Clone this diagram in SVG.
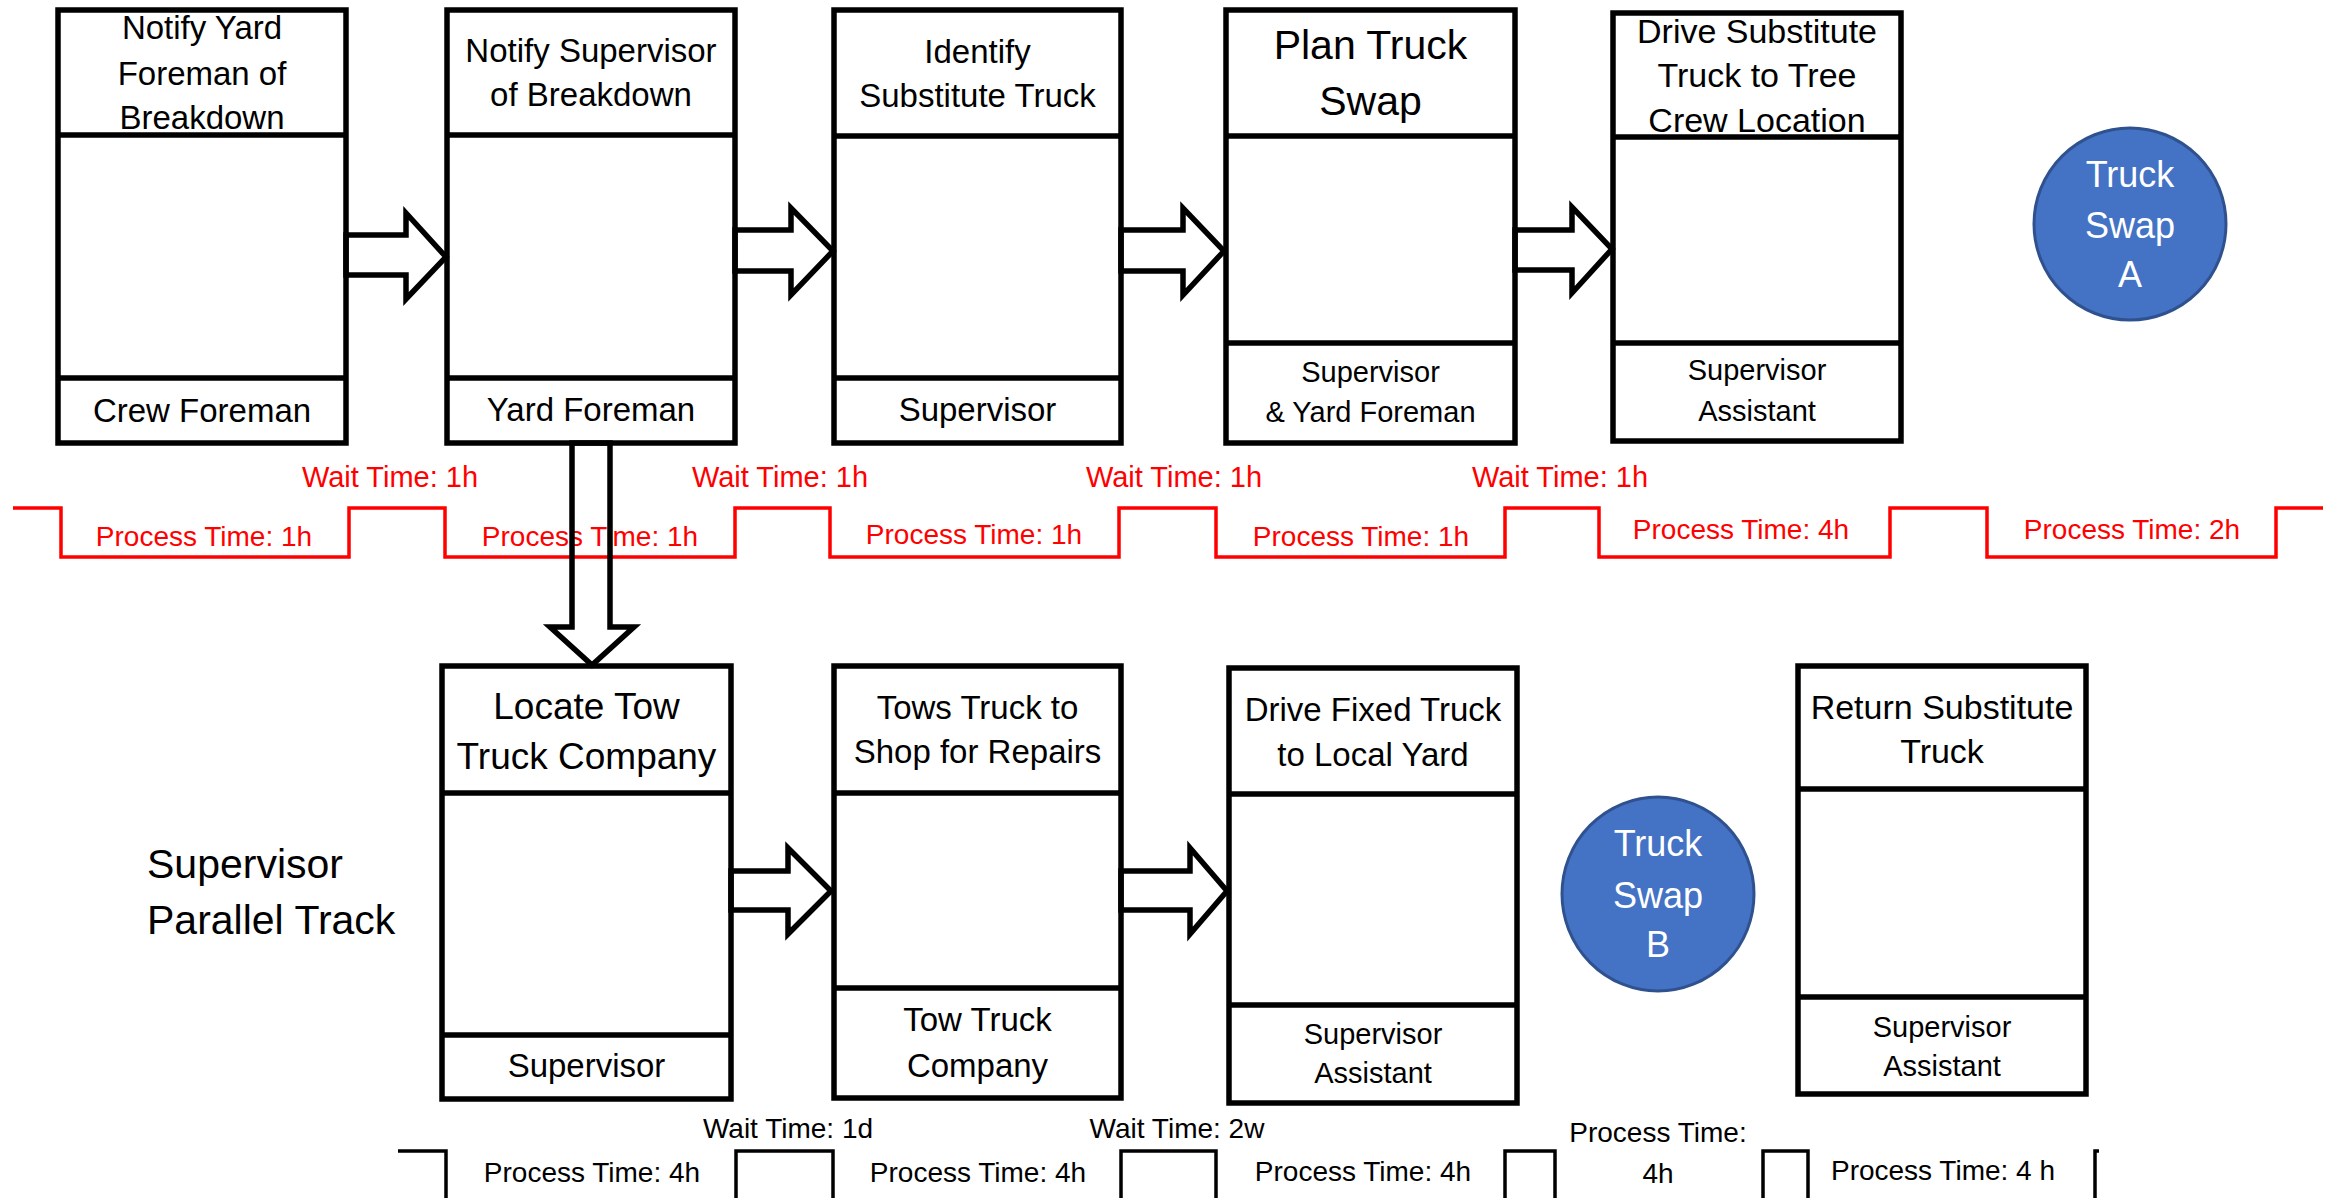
<svg xmlns="http://www.w3.org/2000/svg" width="2334" height="1198" viewBox="0 0 2334 1198">
<style>
text{font-family:"Liberation Sans",Arial,sans-serif;text-anchor:middle;fill:#000}
.box{fill:#fff;stroke:#000;stroke-width:5.5}
.div{stroke:#000;stroke-width:5.5;fill:none}
.arr{fill:none;stroke:#000;stroke-width:5.5;stroke-linejoin:miter}
.h{font-size:33px}
.f{font-size:33px}
.f2{font-size:29px}
.red{fill:#FF0000;font-size:28px}
.wr{fill:#FF0000;font-size:29px}
.bt{font-size:28px}
.ct{fill:#fff;font-size:36px}
.circ{fill:#4472C4;stroke:#2F528F;stroke-width:3}
</style>
<rect width="2334" height="1198" fill="#fff"/>

<g id="timeline-red">
<path d="M13,508 H61 V557 H349 V508 H445 V557 H735 V508 H830 V557 H1119 V508 H1216 V557 H1505 V508 H1599 V557 H1890 V508 H1987 V557 H2276 V508 H2323" fill="none" stroke="#FF0000" stroke-width="3.5"/>
<text class="wr" x="390" y="487">Wait Time: 1h</text>
<text class="wr" x="780" y="487">Wait Time: 1h</text>
<text class="wr" x="1174" y="487">Wait Time: 1h</text>
<text class="wr" x="1560" y="487">Wait Time: 1h</text>
<text class="red" x="204" y="546">Process Time: 1h</text>
<text class="red" x="590" y="546">Process Time: 1h</text>
<text class="red" x="974" y="544">Process Time: 1h</text>
<text class="red" x="1361" y="546">Process Time: 1h</text>
<text class="red" x="1741" y="539">Process Time: 4h</text>
<text class="red" x="2132" y="539">Process Time: 2h</text>
</g>

<g id="timeline-black">
<path d="M398,1151 H446 V1204 M736,1204 V1151 H833 V1204 M1121,1204 V1151 H1216 V1204 M1505,1204 V1151 H1555 V1204 M1763,1204 V1151 H1808 V1204 M2095,1204 V1151 H2099" fill="none" stroke="#000" stroke-width="3.5"/>
<text class="bt" x="788" y="1138">Wait Time: 1d</text>
<text class="bt" x="1177" y="1138">Wait Time: 2w</text>
<text class="bt" x="592" y="1182">Process Time: 4h</text>
<text class="bt" x="978" y="1182">Process Time: 4h</text>
<text class="bt" x="1363" y="1181">Process Time: 4h</text>
<text class="bt" x="1658" y="1142">Process Time:</text>
<text class="bt" x="1658" y="1183">4h</text>
<text class="bt" x="1943" y="1180">Process Time: 4 h</text>
</g>

<g id="n1">
<rect class="box" x="58" y="10" width="288" height="433"/>
<path class="div" d="M58,135 H346 M58,378 H346"/>
<text class="h" x="202" y="39">Notify Yard</text>
<text class="h" x="202" y="85">Foreman of</text>
<text class="h" x="202" y="129">Breakdown</text>
<text class="f" x="202" y="422">Crew Foreman</text>
</g>

<g id="n2">
<rect class="box" x="447" y="10" width="288" height="433"/>
<path class="div" d="M447,135 H735 M447,378 H735"/>
<text class="h" x="591" y="62">Notify Supervisor</text>
<text class="h" x="591" y="106">of Breakdown</text>
<text class="f" x="591" y="421">Yard Foreman</text>
</g>

<g id="n3">
<rect class="box" x="834" y="10" width="287" height="433"/>
<path class="div" d="M834,136 H1121 M834,378 H1121"/>
<text class="h" x="977.5" y="63">Identify</text>
<text class="h" x="977.5" y="107">Substitute Truck</text>
<text class="f" x="977.5" y="421">Supervisor</text>
</g>

<g id="n4">
<rect class="box" x="1226" y="10" width="289" height="433"/>
<path class="div" d="M1226,136 H1515 M1226,343 H1515"/>
<text x="1370.5" y="59" style="font-size:41px">Plan Truck</text>
<text x="1370.5" y="115" style="font-size:41px">Swap</text>
<text class="f2" x="1370.5" y="382">Supervisor</text>
<text class="f2" x="1370.5" y="422">&amp; Yard Foreman</text>
</g>

<g id="n5">
<rect class="box" x="1613" y="13" width="288" height="428"/>
<path class="div" d="M1613,137 H1901 M1613,343 H1901"/>
<text x="1757" y="43" style="font-size:34px">Drive Substitute</text>
<text x="1757" y="87" style="font-size:34px">Truck to Tree</text>
<text x="1757" y="132" style="font-size:34px">Crew Location</text>
<text class="f2" x="1757" y="380">Supervisor</text>
<text class="f2" x="1757" y="421">Assistant</text>
</g>

<g id="swapA">
<ellipse class="circ" cx="2130" cy="224" rx="96" ry="96"/>
<text class="ct" x="2130" y="187">Truck</text>
<text class="ct" x="2130" y="238">Swap</text>
<text class="ct" x="2130" y="287">A</text>
</g>

<g id="label-parallel">
<text x="147" y="878" style="font-size:41px;text-anchor:start">Supervisor</text>
<text x="147" y="934" style="font-size:41px;text-anchor:start">Parallel Track</text>
</g>

<g id="n6">
<rect class="box" x="442" y="666" width="289" height="433"/>
<path class="div" d="M442,793 H731 M442,1035 H731"/>
<text x="586.5" y="719" style="font-size:37px">Locate Tow</text>
<text x="586.5" y="769" style="font-size:37px">Truck Company</text>
<text class="f" x="586.5" y="1077">Supervisor</text>
</g>

<g id="n7">
<rect class="box" x="834" y="666" width="287" height="432"/>
<path class="div" d="M834,793 H1121 M834,988 H1121"/>
<text class="h" x="977.5" y="719">Tows Truck to</text>
<text class="h" x="977.5" y="763">Shop for Repairs</text>
<text class="f" x="977.5" y="1031">Tow Truck</text>
<text class="f" x="977.5" y="1077">Company</text>
</g>

<g id="n8">
<rect class="box" x="1229" y="668" width="288" height="435"/>
<path class="div" d="M1229,794 H1517 M1229,1005 H1517"/>
<text class="h" x="1373" y="721">Drive Fixed Truck</text>
<text class="h" x="1373" y="766">to Local Yard</text>
<text class="f2" x="1373" y="1044">Supervisor</text>
<text class="f2" x="1373" y="1083">Assistant</text>
</g>

<g id="swapB">
<ellipse class="circ" cx="1658" cy="894" rx="96" ry="97"/>
<text class="ct" x="1658" y="856">Truck</text>
<text class="ct" x="1658" y="908">Swap</text>
<text class="ct" x="1658" y="957">B</text>
</g>

<g id="n9">
<rect class="box" x="1798" y="666" width="288" height="428"/>
<path class="div" d="M1798,789 H2086 M1798,997 H2086"/>
<text x="1942" y="719" style="font-size:34px">Return Substitute</text>
<text x="1942" y="763" style="font-size:34px">Truck</text>
<text class="f2" x="1942" y="1037">Supervisor</text>
<text class="f2" x="1942" y="1076">Assistant</text>
</g>

<g id="connectors">
<polygon class="arr" points="346,235 406,235 406,213 446,257 406,299 406,275 346,275"/>
<polygon class="arr" points="735,230 791,230 791,208 833,251 791,295 791,271 735,271"/>
<polygon class="arr" points="1121,230 1183,230 1183,208 1224,251 1183,295 1183,271 1121,271"/>
<polygon class="arr" points="1515,230 1572,230 1572,207 1612,249 1572,293 1572,270 1515,270"/>
<polygon class="arr" points="572,443 610,443 610,627 634,627 592,665 550,627 572,627"/>
<polygon class="arr" points="731,871 788,871 788,848 831,891 788,934 788,910 731,910"/>
<polygon class="arr" points="1121,871 1190,871 1190,848 1227,891 1190,934 1190,910 1121,910"/>
</g>
</svg>
